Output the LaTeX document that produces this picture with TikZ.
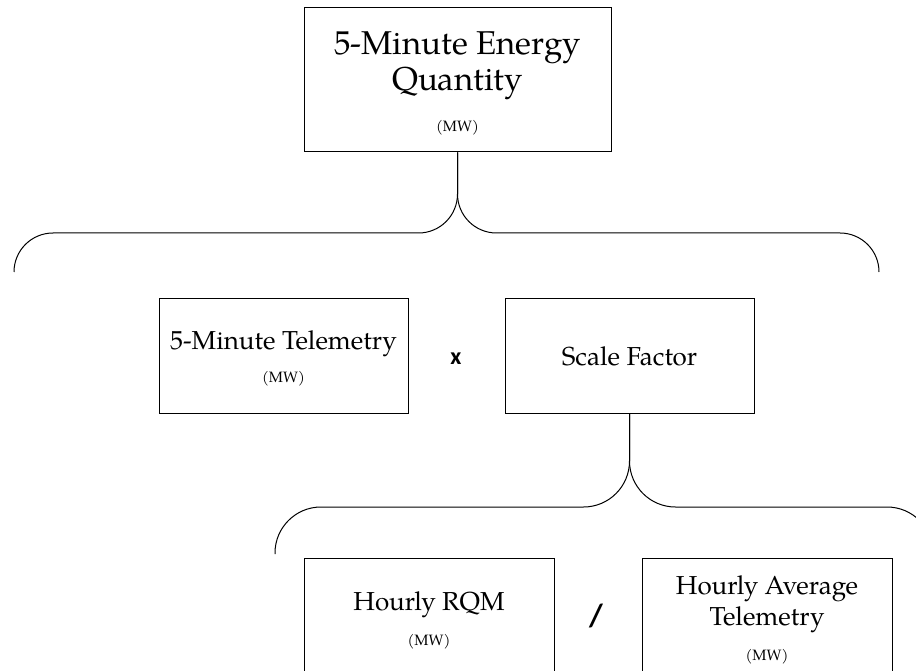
\documentclass[tikz,border=0pt]{standalone}
\usepackage{fontspec}
\setmainfont{TeX Gyre Pagella}
\newfontfamily\opfont{Carlito}
\begin{document}
\begin{tikzpicture}[x=1pt,y=-1pt,
  box/.style={draw=black,line width=1pt,rectangle,inner sep=0pt},
  bigtxt/.style={anchor=base,inner sep=0pt,font=\fontsize{33}{36}\selectfont},
  midtxt/.style={anchor=base,inner sep=0pt,font=\fontsize{26}{30}\selectfont},
  unit/.style={anchor=base,inner sep=0pt,font=\fontsize{15}{17}\selectfont},
  optxt/.style={inner sep=0pt,font=\opfont\bfseries\fontsize{24}{28}\selectfont},
  brace/.style={draw=black,line width=1pt}]
\clip (0,0) rectangle (916,671);
\fill[white] (0,0) rectangle (916,671);

% boxes
\node[box,minimum width=307pt,minimum height=144pt] (top) at (457.5,80) {};
\node[box,minimum width=249pt,minimum height=115pt] (tel) at (283.5,355.5) {};
\node[box,minimum width=249pt,minimum height=115pt] (sf) at (629.5,355.5) {};
\node[box,minimum width=250pt,minimum height=150pt] (rqm) at (429,633) {};
\node[box,minimum width=250pt,minimum height=150pt] (avg) at (767,633) {};

% texts
\node[bigtxt] (t1) at (457.5,55) {5-Minute Energy};
\node[bigtxt] (t2) at (457.5,91) {Quantity};
\node[unit] (t3) at (457.5,132) {(MW)};

\node[midtxt] (l1) at (283.5,349) {5-Minute Telemetry};
\node[unit] (l2) at (283.5,382) {(MW)};

\node[midtxt] (s1) at (629.5,365) {Scale Factor};

\node[midtxt] (r1) at (429,610) {Hourly RQM};
\node[unit] (r2) at (429,645) {(MW)};

\node[midtxt] (a1) at (767,594) {Hourly Average};
\node[midtxt] (a2) at (767,625) {Telemetry};
\node[unit] (a3) at (767,660) {(MW)};

\node[optxt] (times) at (456,359) {x};
\node[optxt,font=\opfont\bfseries\fontsize{32}{36}\selectfont] (div) at (596,616) {/};

% braces
\coordinate (b1l) at (14,272);
\coordinate (b1r) at (879,272);
\draw[brace,rounded corners=39pt] (b1l) |- (457.5,233) -- (top.south);
\draw[brace,rounded corners=39pt] (b1r) |- (457.5,233) -- (top.south);

\coordinate (b2l) at (275,554);
\coordinate (b2r) at (933,554);
\draw[brace,rounded corners=46pt] (b2l) |- (629.5,507) -- (sf.south);
\draw[brace,rounded corners=46pt] (b2r) |- (629.5,507) -- (sf.south);
\end{tikzpicture}
\end{document}
